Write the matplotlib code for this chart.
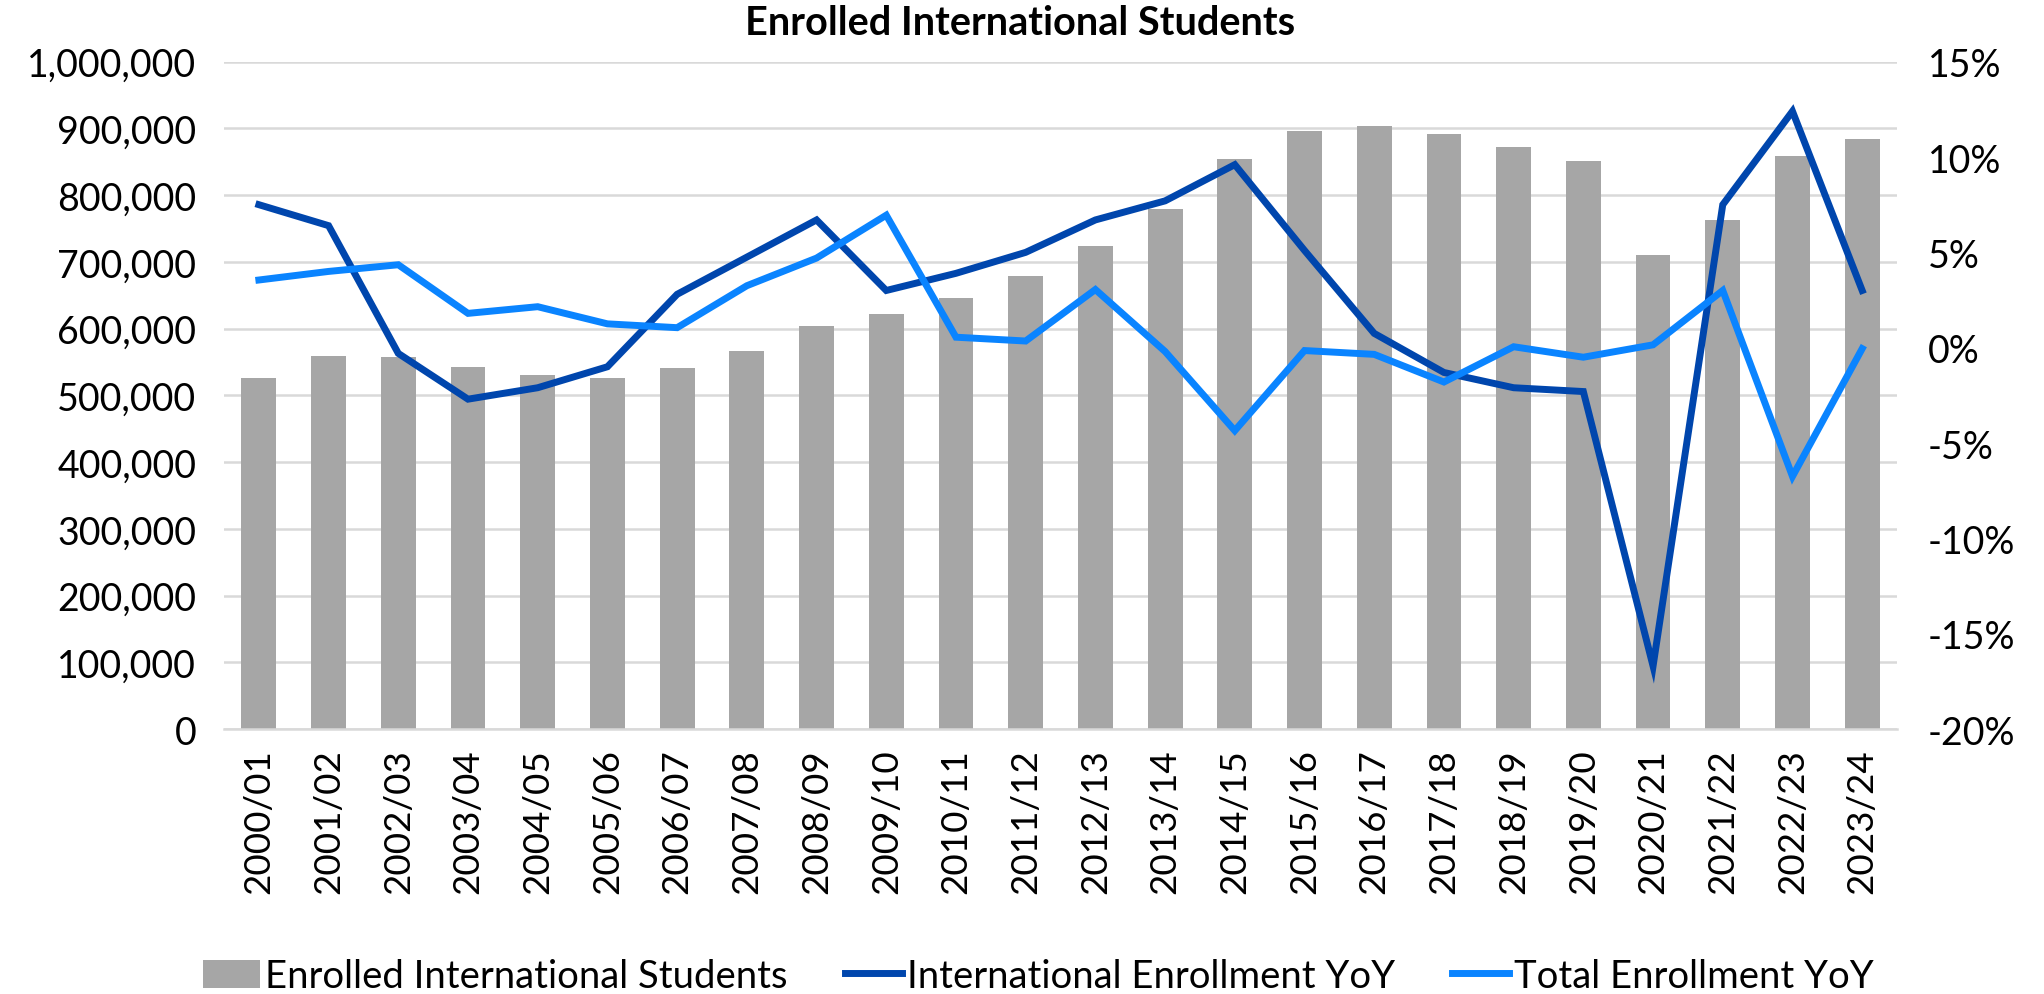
import matplotlib
matplotlib.use("Agg")
import matplotlib.pyplot as plt
from matplotlib.ticker import FuncFormatter, MultipleLocator
from matplotlib.patches import Patch
from matplotlib.lines import Line2D

years = ["2000/01", "2001/02", "2002/03", "2003/04", "2004/05", "2005/06",
         "2006/07", "2007/08", "2008/09", "2009/10", "2010/11", "2011/12",
         "2012/13", "2013/14", "2014/15", "2015/16", "2016/17", "2017/18",
         "2018/19", "2019/20", "2020/21", "2021/22", "2022/23", "2023/24"]

enrolled = [526000, 559000, 557000, 542500, 531000, 526000,
            540500, 566500, 603500, 622500, 646000, 679000,
            723500, 779500, 854500, 896500, 903000, 891000,
            872000, 851500, 710000, 763000, 858000, 883500]

intl_yoy = [7.5, 6.4, -0.3, -2.7, -2.1, -1.0,
            2.8, 4.75, 6.7, 3.0, 3.9, 5.0,
            6.7, 7.7, 9.6, 5.1, 0.75, -1.3,
            -2.1, -2.3, -16.7, 7.5, 12.4, 3.0]

total_yoy = [3.55, 4.0, 4.35, 1.8, 2.15, 1.25,
             1.05, 3.25, 4.7, 6.95, 0.55, 0.35,
             3.05, -0.2, -4.35, -0.15, -0.35, -1.8,
             0.05, -0.5, 0.15, 3.0, -6.75, -0.05]

BAR = "#A6A6A6"
DARK = "#0046AD"
LIGHT = "#0A84FF"
GRID = "#D9D9D9"
FONT = "Lato"
LW = 5.0

plt.rcParams["font.family"] = FONT

fig = plt.figure(figsize=(20.44, 9.95), dpi=100)
ax = fig.add_axes([0.1096, 0.2663, 0.8185, 0.6707])
x = list(range(len(years)))

ax.bar(x, enrolled, width=0.5, color=BAR, zorder=2)
ax.set_ylim(0, 1000000)
ax.set_xlim(-0.5, len(years) - 0.5)
ax.yaxis.set_major_locator(MultipleLocator(100000))
ax.yaxis.set_major_formatter(FuncFormatter(lambda v, p: f"{int(v):,}"))
ax.grid(axis="y", color=GRID, linewidth=1.8, zorder=0)
ax.set_axisbelow(True)
for s in ["top", "right", "left"]:
    ax.spines[s].set_visible(False)
ax.spines["bottom"].set_color(GRID)
ax.spines["bottom"].set_linewidth(1.8)
ax.set_xticks(x)
ax.set_xticklabels(years, rotation=90)
ax.tick_params(axis="x", length=0, labelsize=26.5, pad=14)
ax.tick_params(axis="y", length=0, labelsize=27, pad=20)

ax2 = ax.twinx()
ax2.plot(x, intl_yoy, color=DARK, linewidth=LW, solid_joinstyle="miter", zorder=3)
ax2.plot(x, total_yoy, color=LIGHT, linewidth=LW, solid_joinstyle="miter", zorder=4)
ax2.set_ylim(-20, 15)
ax2.yaxis.set_major_locator(MultipleLocator(5))
ax2.yaxis.set_major_formatter(FuncFormatter(lambda v, p: f"{int(round(v))}%"))
ax2.tick_params(axis="y", length=0, labelsize=27, pad=22)
for s in ax2.spines.values():
    s.set_visible(False)

fig.text(0.499, 0.976, "Enrolled International Students", ha="center", va="center",
         fontsize=28.5, fontweight="bold")

handles = [
    Patch(facecolor=BAR, edgecolor="none"),
    Line2D([0], [0], color=DARK, linewidth=LW),
    Line2D([0], [0], color=LIGHT, linewidth=LW),
]
labels = ["Enrolled International Students", "International Enrollment YoY",
          "Total Enrollment YoY"]
fig.legend(handles, labels, loc="center", bbox_to_anchor=(0.508, 0.018), ncol=3,
           frameon=False, fontsize=27.5, handlelength=1.5, handleheight=0.75,
           handletextpad=0.12, columnspacing=1.5, borderaxespad=0)

fig.savefig("out.png", dpi=100)
